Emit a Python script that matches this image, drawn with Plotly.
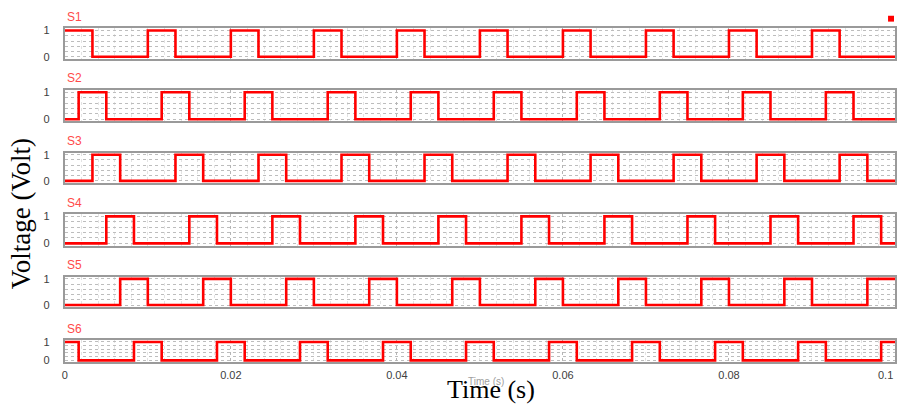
import plotly.graph_objects as go

# ---- data (times in seconds) ----
signal_names = ["S1", "S2", "S3", "S4", "S5", "S6"]
start_levels = [1, 0, 0, 0, 0, 1]
rise_times = {
    "S1": [0.0100, 0.0200, 0.0300, 0.0400, 0.0500, 0.0600, 0.0700, 0.0800, 0.0900],
    "S2": [0.00167, 0.01167, 0.02167, 0.03167, 0.04167, 0.05167, 0.06167, 0.07167, 0.08167, 0.09167],
    "S3": [0.00333, 0.01333, 0.02333, 0.03333, 0.04333, 0.05333, 0.06333, 0.07333, 0.08333, 0.09333],
    "S4": [0.0050, 0.0150, 0.0250, 0.0350, 0.0450, 0.0550, 0.0650, 0.0750, 0.0850, 0.0950],
    "S5": [0.00667, 0.01667, 0.02667, 0.03667, 0.04667, 0.05667, 0.06667, 0.07667, 0.08667, 0.09667],
    "S6": [0.00833, 0.01833, 0.02833, 0.03833, 0.04833, 0.05833, 0.06833, 0.07833, 0.08833, 0.09833],
}
fall_times = {
    "S1": [0.00333, 0.01333, 0.02333, 0.03333, 0.04333, 0.05333, 0.06333, 0.07333, 0.08333, 0.09333],
    "S2": [0.0050, 0.0150, 0.0250, 0.0350, 0.0450, 0.0550, 0.0650, 0.0750, 0.0850, 0.0950],
    "S3": [0.00667, 0.01667, 0.02667, 0.03667, 0.04667, 0.05667, 0.06667, 0.07667, 0.08667, 0.09667],
    "S4": [0.00833, 0.01833, 0.02833, 0.03833, 0.04833, 0.05833, 0.06833, 0.07833, 0.08833, 0.09833],
    "S5": [0.0100, 0.0200, 0.0300, 0.0400, 0.0500, 0.0600, 0.0700, 0.0800, 0.0900],
    "S6": [0.00167, 0.01167, 0.02167, 0.03167, 0.04167, 0.05167, 0.06167, 0.07167, 0.08167, 0.09167],
}
t_start, t_end = 0.0, 0.1
x_tick_vals = [0, 0.02, 0.04, 0.06, 0.08]
x_tick_text = ["0", "0.02", "0.04", "0.06", "0.08"]
last_tick_val, last_tick_text = 0.1, "0.1"
y_tick_vals = [0, 1]
y_tick_text = ["0", "1"]

# ---- layout geometry (pixels) ----
W, H = 899, 405
x_left, x_right = 62, 895
panels_px = [(24, 55), (87, 119), (151, 182), (214, 246), (278, 309), (343, 365)]

fig = go.Figure()
RED = "#ff0000"
for i, name in enumerate(signal_names):
    edges = sorted([(t, 1) for t in rise_times[name]] + [(t, 0) for t in fall_times[name]])
    xs, ys = [t_start], [start_levels[i]]
    for t, lvl in edges:
        xs.append(t)
        ys.append(lvl)
    xs.append(t_end)
    ys.append(ys[-1])
    k = "" if i == 0 else str(i + 1)
    fig.add_trace(go.Scatter(x=xs, y=ys, mode="lines", line=dict(color=RED, width=2.6, shape="hv"),
                             xaxis="x" + k, yaxis="y" + k, showlegend=False, hoverinfo="skip"))

    top, bot = panels_px[i]
    dom = [1 - bot / H, 1 - top / H]
    is_last = i == len(signal_names) - 1
    fig.layout["xaxis" + k] = dict(
        domain=[x_left / W, x_right / W], anchor="y" + k, range=[t_start, t_end],
        showline=True, mirror=True, linecolor="#9a9a9a", linewidth=2,
        tickvals=x_tick_vals, ticktext=x_tick_text if is_last else [""] * len(x_tick_vals),
        showticklabels=is_last, ticks="outside", ticklen=2, tickcolor="rgba(0,0,0,0)",
        tickfont=dict(family="Liberation Sans, Arial", size=11, color="#404040"),
        showgrid=True, gridcolor="#b5b5b5", griddash="dot", gridwidth=1,
        minor=dict(tickmode="linear", tick0=0, dtick=0.002, showgrid=True,
                   gridcolor="#e3e3e3", griddash="dot", gridwidth=1),
        zeroline=False, fixedrange=True,
    )
    fig.layout["yaxis" + k] = dict(
        domain=dom, anchor="x" + k, range=[-0.08, 1.08],
        showline=True, mirror=True, linecolor="#9a9a9a", linewidth=2,
        tickvals=y_tick_vals, ticktext=y_tick_text, ticks="outside", ticklen=11,
        tickcolor="rgba(0,0,0,0)",
        tickfont=dict(family="Liberation Sans, Arial", size=11, color="#404040"),
        showgrid=False, zeroline=False, fixedrange=True,
        minor=dict(tickmode="linear", tick0=0, dtick=0.2, showgrid=True,
                   gridcolor="#bdbdbd", griddash="dot", gridwidth=1),
    )
    fig.add_annotation(text=name, xref="paper", yref="paper", x=x_left / W, y=1 - (top - 12) / H,
                       xanchor="left", yanchor="middle", showarrow=False,
                       font=dict(family="Liberation Sans, Arial", size=12, color="#ff4a4a"))

# last x tick label kept inside the plot
fig.add_annotation(text=last_tick_text, xref="x6", yref="paper", x=last_tick_val, y=1 - 378 / H,
                   xanchor="right", yanchor="middle", showarrow=False,
                   font=dict(family="Liberation Sans, Arial", size=11, color="#404040"))

# faint original axis label behind the big one
fig.add_annotation(text="Time (s)", xref="paper", yref="paper", x=485 / W, y=1 - 385 / H,
                   xanchor="center", yanchor="middle", showarrow=False,
                   font=dict(family="Liberation Sans, Arial", size=10, color="#a0a0a0"))
fig.add_annotation(text="Time (s)", xref="paper", yref="paper", x=490 / W, y=1 - 393 / H,
                   xanchor="center", yanchor="middle", showarrow=False,
                   font=dict(family="Liberation Serif, Times New Roman, serif", size=26, color="#000000"))
fig.add_annotation(text="Voltage (Volt)", xref="paper", yref="paper", x=18 / W, y=1 - 213 / H,
                   xanchor="center", yanchor="middle", showarrow=False, textangle=-90,
                   font=dict(family="Liberation Serif, Times New Roman, serif", size=27, color="#000000"))

# small legend marker top right
fig.add_shape(type="rect", xref="paper", yref="paper", x0=888 / W, x1=894 / W,
              y0=1 - 17 / H, y1=1 - 11 / H, fillcolor=RED, line=dict(width=0))

fig.update_layout(width=W, height=H, margin=dict(l=0, r=0, t=0, b=0),
                  paper_bgcolor="white", plot_bgcolor="white", showlegend=False)
fig.write_html("out.html", config={"displayModeBar": False},
               post_script="document.body.style.margin='0';document.body.style.overflow='hidden';")
